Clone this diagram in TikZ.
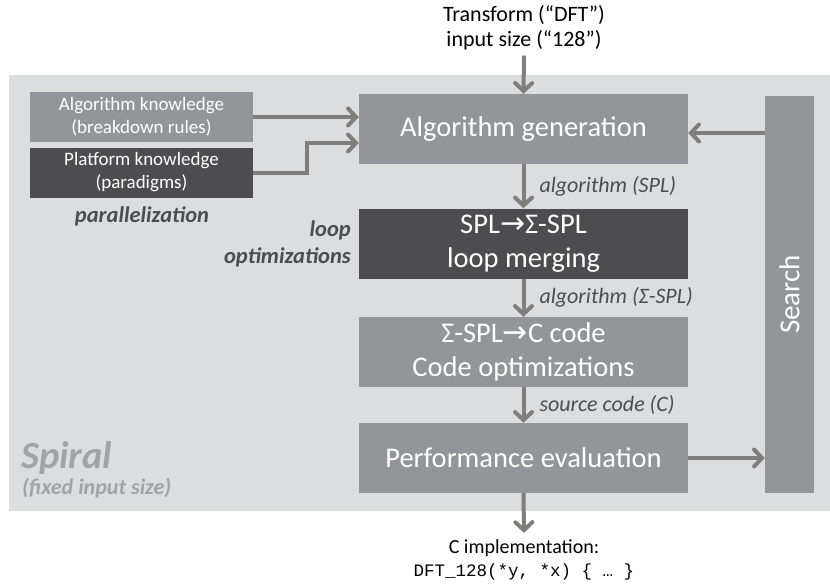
\documentclass[tikz,border=0pt]{standalone}
\usepackage{fontspec}
\setmainfont{Carlito}
\setmonofont{Liberation Mono}
\newfontfamily\symfont{DejaVu Sans}
\usetikzlibrary{arrows.meta,calc}
\definecolor{panelgray}{HTML}{DCDDDF}
\definecolor{boxgray}{HTML}{939598}
\definecolor{boxdark}{HTML}{4D4D4F}
\definecolor{flowgray}{HTML}{7F7E7C}
\definecolor{notegray}{HTML}{4D4D4F}
\definecolor{brandgray}{HTML}{A2A3A6}
\newcommand{\maparrow}{{\symfont\fontsize{30}{34}\selectfont→}}
\tikzset{
  stage/.style={fill=boxgray, text=white, inner sep=0pt, align=center,
    minimum width=329pt, minimum height=70pt, font=\fontsize{28.5}{34}\selectfont},
  darkstage/.style={stage, fill=boxdark},
  knowbox/.style={fill=boxgray, text=white, inner sep=0pt, align=center,
    minimum width=223pt, minimum height=50pt, font=\fontsize{19}{23}\selectfont},
  flow/.style={draw=flowgray, line width=4pt,
    -{Straight Barb[length=8pt,width=17pt,line cap=round]}},
  flowlabel/.style={text=notegray, anchor=west, inner sep=0pt,
    font=\fontsize{22}{24}\selectfont\itshape},
  note/.style={text=notegray, inner sep=0pt,
    font=\fontsize{22.5}{27}\selectfont\bfseries\itshape},
  plain/.style={text=black, inner sep=0pt, align=center}
}
\begin{document}
\begin{tikzpicture}[x=1pt,y=-1pt]
\useasboundingbox (0,0) rectangle (830,586);
% framework panel
\fill[panelgray] (9,75) rectangle (830,511);

% knowledge inputs
\node[knowbox] (algk) at (141.5,117) {Algorithm knowledge\\(breakdown rules)};
\node[knowbox, fill=boxdark] (platk) at (141.5,172.5) {Platform knowledge\\(paradigms)};
\node[note, anchor=base] (par) at (142,222) {parallelization};

% main pipeline
\node[stage] (gen) at (523.5,129) {Algorithm generation};
\node[darkstage] (spl) at (523.5,243.5) {SPL\maparrow Σ-SPL\\loop merging};
\node[stage] (code) at (523.5,352) {Σ-SPL\maparrow C code\\Code optimizations};
\node[stage] (perf) at (523.5,458) {Performance evaluation};
\node[fill=boxgray, inner sep=0pt, minimum width=49pt, minimum height=397pt] (search) at (789.5,294.5) {};
\node[text=white, rotate=90, inner sep=0pt, font=\fontsize{29}{32}\selectfont] (searchtxt) at (search.center) {Search};

% side notes
\node[note, anchor=base east] (loopnote) at (351,236) {loop};
\node[note, anchor=base east] (optnote) at (351,263) {optimizations};
\node[text=brandgray, anchor=base west, inner sep=0pt, font=\fontsize{38.5}{40}\selectfont\bfseries\itshape] (spiral) at (21,468) {Spiral};
\node[text=brandgray, anchor=base west, inner sep=0pt, font=\fontsize{22}{24}\selectfont\bfseries\itshape] (fixed) at (22,494) {(fixed input size)};

% input and output
\node[plain, font=\fontsize{22}{25}\selectfont] (spec) at (524,28) {Transform (“DFT”)\\input size (“128”)};
\node[plain, anchor=base, font=\fontsize{20}{24}\selectfont] (impl) at (524,553) {C implementation:};
\node[plain, anchor=base, font=\ttfamily\fontsize{17.5}{20}\selectfont] (sig) at (524,576) {DFT\_128(*y, *x) \{ … \}};

% connectors
\draw[flow] ($(spec.south)+(0,5)$) -- (gen.north);
\draw[flow] (algk.east) -- (algk.east -| gen.west);
\draw[flow] (platk.east) -- ++(54,0) |- ($(gen.west)+(0,14)$);
\draw[flow] (gen.south) -- (spl.north) node[flowlabel, midway, xshift=14pt] {algorithm (SPL)};
\draw[flow] (spl.south) -- (code.north) node[flowlabel, midway, xshift=14pt] {algorithm (Σ-SPL)};
\draw[flow] (code.south) -- (perf.north) node[flowlabel, midway, xshift=14pt] {source code (C)};
\draw[flow] (perf.east) -- (perf.east -| search.west);
\coordinate (feedback) at (765,133);
\draw[flow] (feedback) -- (feedback -| gen.east);
\draw[flow] (perf.south) -- ($(impl.north)+(0,-6)$);
\end{tikzpicture}
\end{document}
